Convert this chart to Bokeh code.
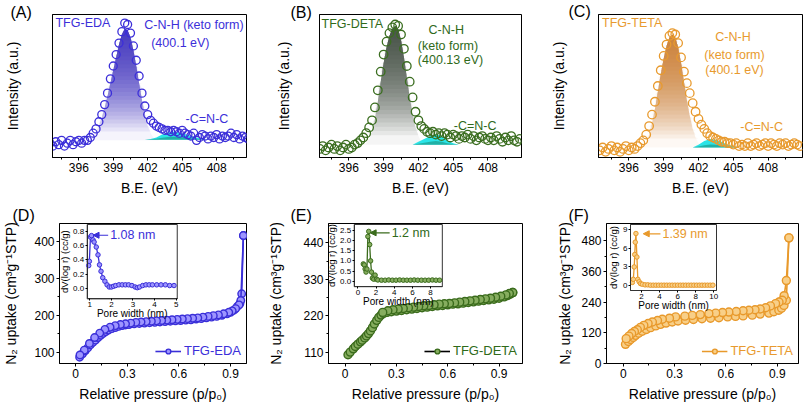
import numpy as np
from bokeh.plotting import figure
from bokeh.layouts import column, row
from bokeh.models import (Range1d, LinearAxis, FixedTicker, Label, Arrow,
                          NormalHead, Legend, LegendItem, NumeralTickFormatter)
from bokeh.embed import file_html
from bokeh.resources import INLINE

FONT = "Liberation Sans"
XPS_STEP = 0.25

# ---------------- XPS N1s data (normalised intensity) ----------------
a_x0 = 393.5
a_y = [0.10, 0.08, 0.11, 0.09, 0.12, 0.08, 0.10, 0.12, 0.09, 0.11, 0.12, 0.10, 0.12, 0.12,
       0.14, 0.17, 0.20, 0.25, 0.30, 0.37, 0.45, 0.55, 0.64, 0.72, 0.80, 0.88, 0.94, 0.93,
       0.87, 0.78, 0.68, 0.57, 0.45, 0.36, 0.30, 0.26, 0.24, 0.22, 0.21, 0.20, 0.19, 0.19,
       0.18, 0.19, 0.18, 0.17, 0.19, 0.17, 0.16, 0.15, 0.17, 0.12, 0.14, 0.16, 0.15, 0.13,
       0.15, 0.14, 0.16, 0.13, 0.15, 0.14, 0.15, 0.17, 0.14, 0.16, 0.13, 0.15, 0.14, 0.13]
a_fit_x0 = 396.75
a_fit = [0.12, 0.13, 0.15, 0.18, 0.22, 0.28, 0.35, 0.43, 0.52, 0.61, 0.70, 0.79, 0.86, 0.90,
         0.89, 0.84, 0.75, 0.64, 0.52, 0.40, 0.30, 0.22, 0.17, 0.14, 0.13, 0.12]
a_imine_x0 = 401.75
a_imine = [0.125, 0.13, 0.14, 0.16, 0.175, 0.18, 0.175, 0.165, 0.15, 0.14, 0.13, 0.125]

b_x0 = 393.5
b_y = [0.06, 0.08, 0.05, 0.07, 0.09, 0.06, 0.08, 0.05, 0.07, 0.09, 0.06, 0.07, 0.09, 0.10,
       0.12, 0.14, 0.17, 0.21, 0.26, 0.35, 0.47, 0.60, 0.72, 0.81, 0.87, 0.91, 0.93, 0.92,
       0.86, 0.76, 0.64, 0.53, 0.42, 0.32, 0.26, 0.22, 0.20, 0.18, 0.17, 0.18, 0.16, 0.17,
       0.15, 0.17, 0.16, 0.14, 0.16, 0.15, 0.13, 0.15, 0.14, 0.16, 0.13, 0.15, 0.12, 0.14,
       0.15, 0.13, 0.12, 0.14, 0.12, 0.15, 0.13, 0.11, 0.14, 0.12, 0.15, 0.12, 0.11, 0.13]
b_fit_x0 = 397.25
b_fit = [0.09, 0.10, 0.13, 0.18, 0.27, 0.39, 0.53, 0.66, 0.77, 0.85, 0.90, 0.92, 0.90, 0.82,
         0.70, 0.56, 0.42, 0.30, 0.21, 0.15, 0.11, 0.09]
b_imine_x0 = 401.5
b_imine = [0.09, 0.11, 0.13, 0.15, 0.165, 0.15, 0.12, 0.10, 0.09]

c_x0 = 393.5
c_y = [0.05, 0.07, 0.04, 0.06, 0.08, 0.05, 0.07, 0.04, 0.06, 0.08, 0.05, 0.07, 0.06, 0.08,
       0.10, 0.12, 0.16, 0.22, 0.30, 0.39, 0.50, 0.61, 0.71, 0.79, 0.85, 0.87, 0.86, 0.80,
       0.70, 0.60, 0.52, 0.45, 0.38, 0.32, 0.27, 0.23, 0.20, 0.17, 0.15, 0.14, 0.13, 0.12,
       0.11, 0.11, 0.10, 0.10, 0.09, 0.10, 0.08, 0.09, 0.08, 0.10, 0.08, 0.09, 0.10, 0.08,
       0.09, 0.10, 0.08, 0.10, 0.09, 0.08, 0.10, 0.09, 0.10, 0.08, 0.09, 0.10, 0.09, 0.08]
c_fit_x0 = 397.0
c_fit = [0.07, 0.08, 0.11, 0.16, 0.24, 0.34, 0.46, 0.58, 0.69, 0.78, 0.84, 0.86, 0.84, 0.77,
         0.66, 0.53, 0.40, 0.29, 0.20, 0.14, 0.10, 0.08, 0.07]
c_imine_x0 = 401.5
c_imine = [0.07, 0.09, 0.115, 0.13, 0.125, 0.11, 0.09, 0.08, 0.07]

# ---------------- N2 isotherms ----------------
d_ads_p = [0.023, 0.04, 0.055, 0.07, 0.085, 0.10, 0.115, 0.13, 0.145, 0.16, 0.175, 0.19, 0.21,
           0.23, 0.25, 0.27, 0.29, 0.31, 0.34, 0.37, 0.40, 0.43, 0.46, 0.49, 0.52, 0.55, 0.58,
           0.61, 0.64, 0.67, 0.70, 0.73, 0.76, 0.79, 0.82, 0.85, 0.88, 0.90, 0.92, 0.94, 0.955,
           0.965, 0.975]
d_ads_v = [87, 96, 104, 112, 120, 127, 133, 140, 146, 151, 156, 160, 164, 167, 170, 172, 174,
           175, 177, 178, 179, 180, 181, 182, 183, 184, 185, 186, 187, 188, 190, 191, 193, 195,
           197, 200, 204, 208, 214, 224, 232, 258, 415]
d_des_p = [0.975, 0.96, 0.95, 0.93, 0.91, 0.89, 0.86, 0.83, 0.80, 0.77, 0.74, 0.71, 0.68, 0.65,
           0.62, 0.59, 0.56, 0.53, 0.50, 0.47, 0.44, 0.41, 0.38, 0.35, 0.32, 0.29, 0.26, 0.23,
           0.20, 0.17, 0.14, 0.11, 0.08, 0.05, 0.025]
d_des_v = [415, 240, 228, 218, 212, 208, 204, 201, 199, 197, 195, 193, 192, 191, 190, 189, 188,
           187, 186, 185, 184, 183, 182, 181, 179, 177, 175, 172, 168, 162, 152, 140, 124, 106, 93]

e_ads_p = [0.017, 0.03, 0.048, 0.06, 0.075, 0.09, 0.10, 0.115, 0.125, 0.137, 0.148, 0.16, 0.171,
           0.185, 0.197, 0.21, 0.225, 0.245, 0.27, 0.30, 0.33, 0.36, 0.39, 0.42, 0.45, 0.48,
           0.51, 0.54, 0.57, 0.60, 0.63, 0.66, 0.69, 0.72, 0.75, 0.78, 0.81, 0.84, 0.87, 0.90,
           0.93, 0.95, 0.965, 0.98]
e_ads_v = [102, 110, 120, 127, 134, 141, 146, 153, 159, 166, 174, 184, 195, 206, 215, 222, 227,
           230, 232, 234, 236, 238, 240, 242, 244, 246, 248, 250, 251, 253, 255, 256, 258, 260,
           262, 264, 266, 268, 270, 273, 277, 281, 285, 290]
e_des_p = [0.98, 0.96, 0.94, 0.91, 0.88, 0.85, 0.82, 0.79, 0.76, 0.73, 0.70, 0.67, 0.64, 0.61,
           0.58, 0.55, 0.52, 0.49, 0.46, 0.43, 0.40, 0.37, 0.34, 0.31, 0.28, 0.25, 0.22]
e_des_v = [290, 287, 283, 279, 276, 273, 271, 269, 267, 265, 263, 261, 259, 257, 256, 255, 253,
           251, 250, 248, 246, 244, 242, 240, 238, 235, 230]

f_ads_p = [0.013, 0.03, 0.043, 0.058, 0.072, 0.09, 0.111, 0.135, 0.16, 0.19, 0.218, 0.25, 0.286,
           0.32, 0.364, 0.41, 0.46, 0.51, 0.559, 0.61, 0.656, 0.70, 0.754, 0.80, 0.851, 0.88,
           0.909, 0.925, 0.939, 0.953, 0.968]
f_ads_v = [75, 86, 94, 102, 110, 118, 126, 133, 140, 147, 153, 158, 162, 166, 169, 172, 175, 177,
           179, 182, 184, 186, 189, 193, 197, 202, 208, 216, 227, 247, 491]
f_des_p = [0.968, 0.953, 0.94, 0.929, 0.91, 0.89, 0.86, 0.832, 0.80, 0.77, 0.734, 0.70, 0.66,
           0.617, 0.58, 0.54, 0.50, 0.45, 0.403, 0.36, 0.306, 0.27, 0.228, 0.20, 0.17, 0.145,
           0.12, 0.10, 0.082, 0.065, 0.049, 0.033, 0.017]
f_des_v = [491, 324, 265, 247, 240, 234, 225, 218, 213, 210, 208, 206, 203, 201, 199, 197, 195,
           191, 188, 185, 182, 177, 173, 168, 162, 156, 149, 141, 132, 125, 117, 107, 97]

# ---------------- pore size distributions (insets) ----------------
d_pw = [0.95, 0.98, 1.03, 1.08, 1.15, 1.2, 1.3, 1.38, 1.45, 1.52, 1.6, 1.7, 1.8, 1.9, 2.0, 2.1,
        2.2, 2.35, 2.5, 2.65, 2.8, 2.95, 3.1, 3.2, 3.3, 3.45, 3.6, 3.75, 3.9, 4.1, 4.3, 4.5,
        4.7, 4.9]
d_dv = [0.32, 0.38, 0.72, 0.74, 0.68, 0.65, 0.58, 0.47, 0.33, 0.24, 0.15, 0.10, 0.05, 0.02,
        0.02, 0.03, 0.04, 0.05, 0.05, 0.05, 0.05, 0.04, 0.02, 0.01, 0.02, 0.04, 0.05, 0.05,
        0.05, 0.05, 0.05, 0.05, 0.04, 0.04]
e_pw = [0.6, 0.7, 0.8, 0.9, 1.0, 1.1, 1.2, 1.3, 1.4, 1.5, 1.6, 1.75, 1.9, 2.05, 2.2, 2.6, 3.0,
        3.4, 3.8, 4.2, 4.6, 5.0, 5.4, 5.8, 6.2, 6.6, 7.0, 7.4, 7.8, 8.2, 8.6, 9.0]
e_dv = [0.85, 0.8, 0.6, 0.45, 0.6, 2.2, 2.45, 1.8, 1.0, 0.45, 0.15, 0.1, 0.3, 0.1, 0.06, 0.05,
        0.05, 0.06, 0.05, 0.05, 0.06, 0.05, 0.05, 0.05, 0.06, 0.05, 0.05, 0.05, 0.05, 0.06,
        0.05, 0.05]
f_pw = [1.0, 1.1, 1.2, 1.26, 1.32, 1.39, 1.5, 1.6, 1.75, 1.9, 2.1, 2.4, 2.7, 3.0, 3.3, 3.6, 3.9,
        4.2, 4.5, 4.8, 5.1, 5.4, 5.7, 6.0, 6.3, 6.6, 6.9, 7.2, 7.5, 7.8, 8.1, 8.4, 8.7, 9.0,
        9.3, 9.6, 9.9]
f_dv = [0.5, 1.0, 3.0, 5.0, 7.0, 8.4, 4.6, 1.0, 0.6, 0.3, 0.2, 0.1, 0.1, 0.05, 0.05, 0.05,
        0.05, 0.05, 0.05, 0.05, 0.05, 0.05, 0.05, 0.05, 0.05, 0.05, 0.05, 0.05, 0.05, 0.05,
        0.05, 0.05, 0.05, 0.05, 0.05, 0.05, 0.05]

xps_ticks = [396, 399, 402, 405, 408]
xps_minor = [394.5, 397.5, 400.5, 403.5, 406.5, 409.5]
iso_xticks = [0, 0.3, 0.6, 0.9]
iso_xminor = [0.15, 0.45, 0.75]


def grid(x0, n, step):
    return x0 + step * np.arange(n)


def base_fig(cfg, xr, yr):
    w, h = cfg["size"]
    l, r, t, b = cfg["mb"]
    p = figure(width=w, height=h, x_range=Range1d(*xr), y_range=Range1d(*yr),
               output_backend="svg", toolbar_location=None,
               min_border_left=l, min_border_right=r, min_border_top=t, min_border_bottom=b)
    p.grid.visible = False
    p.outline_line_color = "black"
    p.outline_line_width = 1
    p.background_fill_color = "white"
    p.border_fill_color = "white"
    return p


def style_axis(ax, tick_size="12px", label_size="14px"):
    ax.axis_label_text_font = FONT
    ax.axis_label_text_font_style = "normal"
    ax.axis_label_text_font_size = label_size
    ax.axis_label_text_color = "black"
    ax.major_label_text_font = FONT
    ax.major_label_text_font_size = tick_size
    ax.major_label_text_color = "black"
    ax.axis_line_color = "black"
    ax.major_tick_line_color = "black"
    ax.minor_tick_line_color = "black"
    ax.major_tick_in = 0
    ax.major_tick_out = 3
    ax.minor_tick_in = 0
    ax.minor_tick_out = 2
    ax.major_label_standoff = 2
    ax.axis_label_standoff = 5


def frame_px(cfg):
    ox, oy = cfg["origin"]
    w, h = cfg["size"]
    l, r, t, b = cfg["mb"]
    return ox + l, ox + w - r, oy + t, oy + h - b


def add_letter(p, cfg):
    # panel letter drawn as the figure title, pulled left/down into the border
    fl, fr, ft, fb = frame_px(cfg)
    lx, sy = cfg["letter_xy"]
    t = p.title
    t.text = cfg["letter"]
    t.align = "left"
    t.text_font = FONT
    t.text_font_size = "16px"
    t.text_font_style = "normal"
    t.text_color = "black"
    t.offset = lx - fl
    t.standoff = cfg["letter_standoff"]


def xps_panel(cfg):
    p = base_fig(cfg, cfg["xr"], (0, 1))
    bx = p.xaxis[0]
    style_axis(bx)
    bx.ticker = FixedTicker(ticks=xps_ticks, minor_ticks=xps_minor)
    bx.axis_label = "B.E. (eV)"
    ly = p.yaxis[0]
    style_axis(ly)
    ly.ticker = FixedTicker(ticks=[])
    ly.major_tick_out = 0
    ly.minor_tick_out = 0
    ly.axis_label = "Intensity (a.u.)"
    ly.axis_label_standoff = cfg["ylab_standoff"]

    # gradient-filled main (C-N-H) component
    fy = np.array(cfg["fit"])
    fx = grid(cfg["fit_x0"], len(fy), XPS_STEP)
    base, top = fy.min(), fy.max()
    n = 26
    for k in range(n):
        lev = base + (top - base) * (0.08 + 0.92 * k / n)
        p.varea(x=fx, y1=np.full(len(fx), lev), y2=np.maximum(fy, lev),
                fill_color=cfg["grad"], fill_alpha=0.075)
    p.varea(x=fx, y1=np.full(len(fx), base), y2=fy, fill_color=cfg["grad"], fill_alpha=0.05)
    # imine (-C=N-C) component
    cy = np.array(cfg["imine"])
    cx = grid(cfg["imine_x0"], len(cy), 0.5)
    cb = cy.min()
    p.varea(x=cx, y1=np.full(len(cx), cb), y2=cy, fill_color="#1fe3e6", fill_alpha=0.95)
    p.varea(x=cx, y1=np.full(len(cx), cb), y2=cb + (cy - cb) * 0.35,
            fill_color="#1a8f7c", fill_alpha=0.6)

    ys = np.array(cfg["y"])
    xs = grid(cfg["x0"], len(ys), XPS_STEP)
    p.scatter(xs, ys, marker="circle", size=cfg["msize"], fill_color=None,
              line_color=cfg["color"], line_width=1.3)

    for txt, tx, ty, al in cfg["texts"]:
        p.add_layout(Label(x=tx, y=ty, text=txt, text_font=FONT, text_font_size="12.5px",
                           text_color=cfg["tcolor"], text_align=al, text_baseline="middle"))
    add_letter(p, cfg)
    return p


def add_inset(p, cfg):
    fl, fr, ft, fb = frame_px(cfg)
    bl, br, bt, bb = cfg["box"]
    x0, x1 = cfg["ixr"]
    y0, y1 = cfg["iyr"]
    ux = (x1 - x0) / (br - bl)
    uy = (y1 - y0) / (bb - bt)
    p.extra_x_ranges = {"ix": Range1d(x0 - (bl - fl) * ux, x1 + (fr - br) * ux)}
    p.extra_y_ranges = {"iy": Range1d(y0 - (fb - bb) * uy, y1 + (bt - ft) * uy)}
    p.quad(left=[x0], right=[x1], bottom=[y0], top=[y1], x_range_name="ix", y_range_name="iy",
           fill_color="white", line_color="#333333", line_width=1)
    p.line(cfg["pw"], cfg["dv"], x_range_name="ix", y_range_name="iy",
           line_color=cfg["color"], line_width=1.3)
    p.scatter(cfg["pw"], cfg["dv"], x_range_name="ix", y_range_name="iy", marker="circle",
              size=4.5, fill_color=cfg["mfill"], line_color=cfg["color"], line_width=1)

    ax = LinearAxis(x_range_name="ix", y_range_name="iy", fixed_location=y0, bounds=(x0, x1),
                    ticker=FixedTicker(ticks=cfg["ixt"]))
    ay = LinearAxis(x_range_name="ix", y_range_name="iy", fixed_location=x0, bounds=(y0, y1),
                    ticker=FixedTicker(ticks=cfg["iyt"]))
    if cfg.get("iyfmt"):
        ay.formatter = NumeralTickFormatter(format=cfg["iyfmt"])
    for a in (ax, ay):
        style_axis(a, tick_size="8px")
        a.major_tick_out = 2
        a.major_label_standoff = 1
        a.axis_line_color = "#333333"
    p.add_layout(ax, "below")
    p.add_layout(ay, "left")
    p.add_layout(Label(x=(x0 + x1) / 2, y=y0, x_range_name="ix", y_range_name="iy",
                       y_offset=-9, text="Pore width (nm)", text_font=FONT,
                       text_font_size="10px", text_align="center", text_baseline="top",
                       text_color="black"))
    p.add_layout(Label(x=x0, y=(y0 + y1) / 2, x_range_name="ix", y_range_name="iy",
                       x_offset=-cfg["ylab_off"], angle=np.pi / 2, text="dV(log r) (cc/g)",
                       text_font=FONT, text_font_size="9.5px", text_align="center",
                       text_baseline="bottom", text_color="black"))
    (as_, ae, ay_) = cfg["arrow"]
    p.add_layout(Arrow(x_start=as_, y_start=ay_, x_end=ae, y_end=ay_, x_range_name="ix",
                       y_range_name="iy", line_color=cfg["color"], line_width=1.2,
                       end=NormalHead(size=6, fill_color=cfg["color"],
                                      line_color=cfg["color"])))
    p.add_layout(Label(x=as_, y=ay_, x_range_name="ix", y_range_name="iy", x_offset=2,
                       text=cfg["peak"], text_font=FONT, text_font_size="12.5px",
                       text_color=cfg["tcolor"], text_align="left", text_baseline="middle"))


def iso_panel(cfg):
    p = base_fig(cfg, cfg["xr"], cfg["yr"])
    bx = p.xaxis[0]
    style_axis(bx)
    bx.ticker = FixedTicker(ticks=iso_xticks, minor_ticks=iso_xminor)
    bx.axis_label = "Relative pressure (p/p\u2080)"
    ly = p.yaxis[0]
    style_axis(ly)
    ly.ticker = FixedTicker(ticks=cfg["yt"], minor_ticks=cfg["ym"])
    ly.axis_label = "N\u2082 uptake (cm\u00b3g\u207b\u00b9STP)"
    ly.axis_label_standoff = cfg["ylab_standoff"]

    add_inset(p, cfg)

    kw = dict(marker="circle", size=cfg["msize"], fill_color=cfg["mfill"],
              line_color=cfg["color"], line_width=1.4)
    leg_line = None
    if cfg.get("leg_line"):
        # legend shows a black connecting line; it lies under the coloured one
        leg_line = p.line(cfg["ads_p"], cfg["ads_v"], line_color=cfg["leg_line"],
                          line_width=1.6)
    l1 = p.line(cfg["ads_p"], cfg["ads_v"], line_color=cfg["color"], line_width=1.6)
    s1 = p.scatter(cfg["ads_p"], cfg["ads_v"], **kw)
    p.line(cfg["des_p"], cfg["des_v"], line_color=cfg["color"], line_width=1.6)
    p.scatter(cfg["des_p"], cfg["des_v"], **kw)
    if leg_line is not None:
        l1 = leg_line
    leg = Legend(items=[LegendItem(label=cfg["name"], renderers=[l1, s1])],
                 location="bottom_right", label_text_font=FONT, label_text_font_size="13px",
                 label_text_color=cfg["tcolor"], glyph_width=26, glyph_height=12,
                 label_standoff=3, padding=2, margin=3, border_line_alpha=0,
                 background_fill_alpha=0)
    p.add_layout(leg)
    add_letter(p, cfg)
    return p


BLUE, GREEN, ORANGE = "#3c2fd9", "#3b6e20", "#e89a2e"

cfg_a = dict(origin=(0, 0), size=(265, 203), mb=(52, 19, 14, 46), xr=(393.71, 410.6),
             color=BLUE, tcolor=BLUE, grad="#3326c2", y=a_y, x0=a_x0, fit=a_fit,
             fit_x0=a_fit_x0, imine=a_imine, imine_x0=a_imine_x0, letter="(A)",
             letter_xy=(10, 11), letter_standoff=-12, ylab_standoff=32, msize=8,
             texts=[("TFG-EDA", 393.97, 0.94, "left"),
                    ("C-N-H (keto form)", 401.7, 0.93, "left"),
                    ("(400.1 eV)", 402.3, 0.80, "left"),
                    ("-C=N-C", 405.3, 0.27, "left")])
cfg_b = dict(origin=(265, 0), size=(270, 203), mb=(54, 14, 13, 40), xr=(393.47, 410.89),
             color=GREEN, tcolor="#2f6a1a", grad="#39443a", y=b_y, x0=b_x0, fit=b_fit,
             fit_x0=b_fit_x0, imine=b_imine, imine_x0=b_imine_x0, letter="(B)",
             letter_xy=(290, 10), letter_standoff=-12, ylab_standoff=28, msize=8.5,
             texts=[("TFG-DETA", 393.65, 0.935, "left"),
                    ("C-N-H", 404.4, 0.89, "center"),
                    ("(keto form)", 404.55, 0.78, "center"),
                    ("(400.13 eV)", 404.77, 0.68, "center"),
                    ("-C=N-C", 405.05, 0.22, "left")])
cfg_c = dict(origin=(535, 0), size=(268, 203), mb=(63, 1, 14, 41), xr=(393.39, 410.96),
             color=ORANGE, tcolor=ORANGE, grad="#cf7f22", y=c_y, x0=c_x0, fit=c_fit,
             fit_x0=c_fit_x0, imine=c_imine, imine_x0=c_imine_x0, letter="(C)",
             letter_xy=(568, 10), letter_standoff=-10, ylab_standoff=32, msize=8.5,
             texts=[("TFG-TETA", 393.7, 0.94, "left"),
                    ("C-N-H", 404.97, 0.84, "center"),
                    ("(keto form)", 405.1, 0.72, "center"),
                    ("(400.1 eV)", 405.1, 0.61, "center"),
                    ("-C=N-C", 405.6, 0.21, "left")])

cfg_d = dict(origin=(0, 203), size=(265, 207), mb=(57, 19, 20, 44), xr=(-0.094, 0.993),
             yr=(70, 447.5), yt=[100, 200, 300, 400], ym=[150, 250, 350],
             color="#3a2fd8", mfill="#9d95ff", tcolor=BLUE, msize=7.5, name="TFG-EDA",
             ads_p=d_ads_p, ads_v=d_ads_v, des_p=d_des_p, des_v=d_des_v,
             letter="(D)", letter_xy=(10, 212), letter_standoff=0, ylab_standoff=12,
             box=(85, 176, 224, 300), ixr=(0.88, 5.05), iyr=(-0.147, 0.896),
             ixt=[1, 2, 3, 4, 5], iyt=[0.0, 0.2, 0.4, 0.6, 0.8], iyfmt="0.0",
             pw=d_pw, dv=d_dv, ylab_off=17, arrow=(1.85, 1.15, 0.745), peak="1.08 nm")
cfg_e = dict(origin=(265, 203), size=(270, 207), mb=(61, 13, 19, 44), xr=(-0.097, 1.037),
             yr=(75.6, 498.8), yt=[110, 220, 330, 440], ym=[165, 275, 385],
             color="#3a6b1c", mfill="#86ad5f", tcolor="#2f6a1a", msize=8, name="TFG-DETA",
             ads_p=e_ads_p, ads_v=e_ads_v, des_p=e_des_p, des_v=e_des_v, leg_line="black",
             letter="(E)", letter_xy=(288, 211), letter_standoff=-1, ylab_standoff=16,
             box=(352, 441, 223, 287), ixr=(-0.4, 9.3), iyr=(-0.27, 2.79),
             ixt=[0, 2, 4, 6, 8], iyt=[0.0, 0.5, 1.0, 1.5, 2.0, 2.5], iyfmt="0.0",
             pw=e_pw, dv=e_dv, ylab_off=17, arrow=(3.5, 1.35, 2.38), peak="1.2 nm")
cfg_f = dict(origin=(535, 203), size=(268, 207), mb=(71, 5, 20, 47), xr=(-0.098, 1.024),
             yr=(0, 547), yt=[0, 120, 240, 360, 480], ym=[60, 180, 300, 420],
             color="#e8992b", mfill="#f8cf88", tcolor=ORANGE, msize=8, name="TFG-TETA",
             ads_p=f_ads_p, ads_v=f_ads_v, des_p=f_des_p, des_v=f_des_v,
             letter="(F)", letter_xy=(568, 207), letter_standoff=0, ylab_standoff=5,
             box=(630, 716, 224, 290), ixr=(0.79, 10.3), iyr=(-0.81, 9.86),
             ixt=[2, 4, 6, 8, 10], iyt=[0, 3, 6, 9], iyfmt=None,
             pw=f_pw, dv=f_dv, ylab_off=12, arrow=(4.1, 2.2, 8.36), peak="1.39 nm")

pa, pb, pc = xps_panel(cfg_a), xps_panel(cfg_b), xps_panel(cfg_c)
pd, pe, pf = iso_panel(cfg_d), iso_panel(cfg_e), iso_panel(cfg_f)

layout = column(row(pa, pb, pc, spacing=0), row(pd, pe, pf, spacing=0), spacing=0)
open("out.html", "w").write(file_html(layout, INLINE))
